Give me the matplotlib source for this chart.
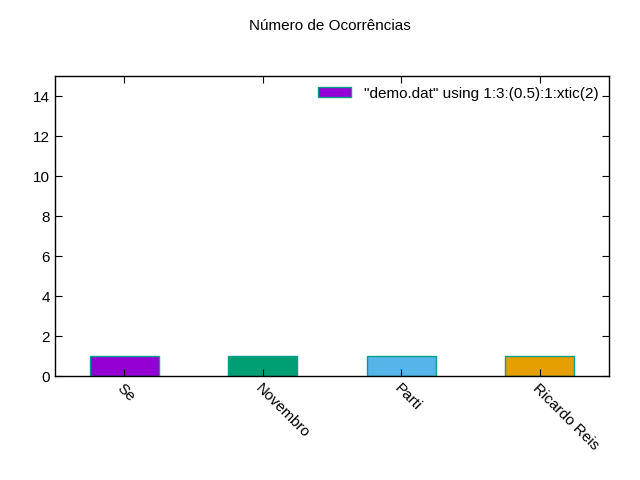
import matplotlib
matplotlib.use("Agg")
import matplotlib.pyplot as plt
from matplotlib.patches import Patch

plt.rcParams['font.family'] = ['Liberation Sans', 'DejaVu Sans']
categories = ["Se", "Novembro", "Parti", "Ricardo Reis"]
values = [1, 1, 1, 1]
colors = ["#9400d3", "#009e73", "#56b4e9", "#e69f00"]
edge = "#00a08a"

fig = plt.figure(figsize=(6.4, 4.8), dpi=100)
ax = fig.add_axes([55/640, 1-376/480, (609-55)/640, 300/480])
x = list(range(1, len(categories)+1))
ax.bar(x, values, width=0.5, color=colors, edgecolor=edge, linewidth=1)
ax.set_xlim(0.5, 4.5)
ax.set_ylim(0, 15)
ax.set_yticks(range(0, 15, 2))
ax.set_xticks(x)
ax.set_xticklabels(categories, rotation=-45, ha='left', va='top', rotation_mode='anchor', fontsize=11)
ax.tick_params(direction='in', top=True, right=True, labelsize=11, length=5)
for s in ax.spines.values():
    s.set_linewidth(1)
fig.text(330/640, 1-26/480, "Número de Ocorrências", ha='center', va='center', fontsize=11)
ax.legend([Patch(facecolor=colors[0], edgecolor=edge)], ['"demo.dat" using 1:3:(0.5):1:xtic(2)'],
          loc='upper right', frameon=False, fontsize=11, handlelength=2.2, handleheight=0.6,
          borderaxespad=0.3)
fig.savefig("out.png")
